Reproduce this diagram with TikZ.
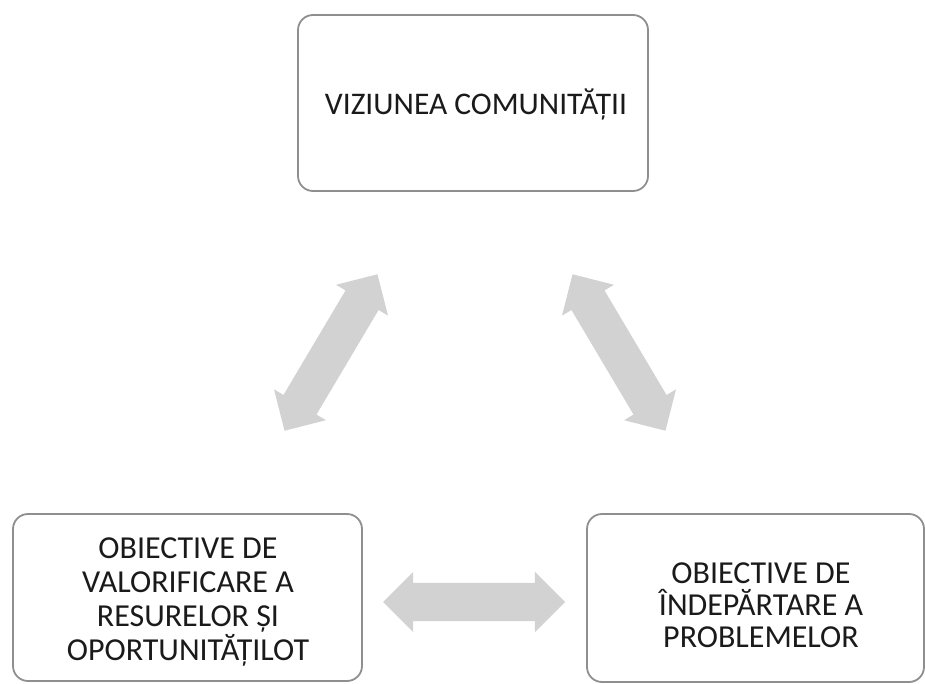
\documentclass[tikz,border=0pt]{standalone}
\usepackage{fontspec}
\setmainfont{Carlito}
\usetikzlibrary{shapes.arrows}
\definecolor{boxline}{HTML}{8F8F8F}
\definecolor{arrowgray}{HTML}{D2D2D2}
\definecolor{txt}{HTML}{1A1A1A}
\tikzset{
  box/.style={draw=boxline, line width=1.8pt, rounded corners=15pt, fill=white},
  boxtext/.style={text=txt, align=center, inner sep=0pt},
  fatarrow/.style={double arrow, fill=arrowgray, draw=none, inner sep=0pt,
    double arrow head extend=11pt, minimum height=182pt, anchor=center}
}
\begin{document}
\begin{tikzpicture}[x=1pt,y=-1pt]
\useasboundingbox (0,0) rectangle (925,684);
% boxes
\draw[box] (298,15) rectangle (648,191);
\node[boxtext, font=\fontsize{31.5}{34}\selectfont] (top) at (476,105) {VIZIUNEA COMUNITĂȚII};
\draw[box] (13,514) rectangle (362,681);
\node[boxtext, font=\fontsize{32}{34.3}\selectfont] (left) at (188,602) {OBIECTIVE DE\\VALORIFICARE A\\RESURELOR ȘI\\OPORTUNITĂȚILOT};
\draw[box] (587,514) rectangle (924,682);
\node[boxtext, font=\fontsize{32}{32}\selectfont] (right) at (761,605) {OBIECTIVE DE\\ÎNDEPĂRTARE A\\PROBLEMELOR};
% arrows
\node[fatarrow, rotate=59.3] (a1) at (331,352.5) {\rule{0pt}{38pt}};
\node[fatarrow, rotate=-59.3] (a2) at (619,352.5) {\rule{0pt}{38pt}};
\node[fatarrow] (a3) at (474,602) {\rule{0pt}{38pt}};
\end{tikzpicture}
\end{document}
